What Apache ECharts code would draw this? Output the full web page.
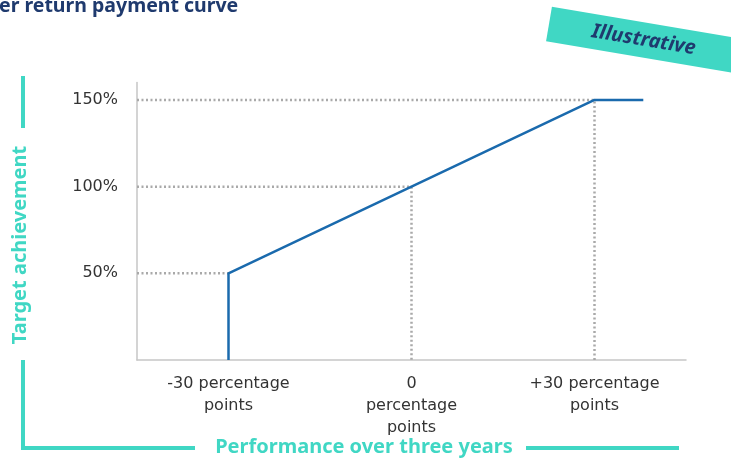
<!DOCTYPE html>
<html>
<head>
<meta charset="utf-8">
<script src="https://cdn.jsdelivr.net/npm/echarts@6/dist/echarts.min.js"></script>
<style>
html,body{margin:0;padding:0;background:#fff;}
#chart{width:731px;height:459px;}
</style>
</head>
<body>
<div id="chart"></div>
<script>
// ---- data ----
var titleText = 'er return payment curve';
var tagText = 'Illustrative';
var yAxisName = 'Target achievement';
var xAxisName = 'Performance over three years';
// payment curve points [performance (pp), target achievement (%)]
var curveX = [-30, -30, 0, 30, 38];
var curveY = [0, 50, 100, 150, 150];
// guide (dotted) points
var guideX = [-30, 0, 30];
var guideY = [50, 100, 150];
var guideDrop = [false, true, true];
// ticks
var xTickValues = [-30, 0, 30];
var xTickLabels = ['-30 percentage\npoints', '0\npercentage\npoints', '+30 percentage\npoints'];
var yTickValues = [50, 100, 150];
var yTickLabels = ['50%', '100%', '150%'];
var xMin = -45, xMax = 45, yMin = 0, yMax = 160;

var teal = '#40d7c4';
var navy = '#1f3a6e';
var blue = '#1a6aad';
var dotGray = '#a9a9a9';

var chart = echarts.init(document.getElementById('chart'), null, {renderer: 'canvas'});

var series = [];
guideX.forEach(function (gx, i) {
  var pts = [[xMin, guideY[i]], [gx, guideY[i]]];
  if (guideDrop[i]) pts.push([gx, yMin]);
  series.push({
    type: 'line', data: pts, symbol: 'none', silent: true, z: 1,
    lineStyle: {color: dotGray, width: 2.5, type: [2, 2.5]}
  });
});
series.push({
  type: 'line', symbol: 'none', z: 3,
  data: curveX.map(function (x, i) { return [x, curveY[i]]; }),
  lineStyle: {color: blue, width: 2.5}
});

var option = {
  backgroundColor: '#fff',
  animation: false,
  grid: {left: 137, right: 45, top: 82.6, bottom: 99, containLabel: false},
  xAxis: {
    type: 'value', min: xMin, max: xMax,
    axisLine: {show: true, onZero: false, lineStyle: {color: '#c6c6c6', width: 1.5}},
    axisTick: {show: false},
    splitLine: {show: false},
    axisLabel: {
      customValues: xTickValues,
      margin: 13,
      color: '#333', fontSize: 16, lineHeight: 22,
      fontFamily: 'DejaVu Sans', align: 'center',
      formatter: function (v) { var k = xTickValues.indexOf(v); return k >= 0 ? xTickLabels[k] : ''; }
    }
  },
  yAxis: {
    type: 'value', min: yMin, max: yMax,
    axisLine: {show: true, onZero: false, lineStyle: {color: '#c6c6c6', width: 1.5}},
    axisTick: {show: false},
    splitLine: {show: false},
    axisLabel: {
      customValues: yTickValues,
      margin: 19,
      color: '#333', fontSize: 16,
      fontFamily: 'DejaVu Sans',
      formatter: function (v) { var k = yTickValues.indexOf(v); return k >= 0 ? yTickLabels[k] : ''; }
    }
  },
  series: series,
  graphic: [
    {type: 'text', left: -1, top: -4, style: {text: titleText, fill: navy, font: 'bold 19.5px "Noto Sans"'}},
    {
      type: 'group', x: 549, y: 24, rotation: -0.168,
      children: [
        {type: 'rect', shape: {x: 0, y: -17.5, width: 260, height: 35}, style: {fill: teal}},
        {type: 'text', x: 96, y: 0, style: {text: tagText, fill: navy, align: 'center', verticalAlign: 'middle', font: 'italic bold 20px "Noto Sans"'}}
      ]
    },
    // y-axis bracket
    {type: 'line', shape: {x1: 23, y1: 76, x2: 23, y2: 128}, style: {stroke: teal, lineWidth: 4}},
    {type: 'polyline', shape: {points: [[23, 360], [23, 448], [195, 448]]}, style: {stroke: teal, lineWidth: 4, fill: null, lineJoin: 'miter'}},
    {type: 'line', shape: {x1: 526, y1: 448, x2: 679, y2: 448}, style: {stroke: teal, lineWidth: 4}},
    {type: 'text', x: 20, y: 245, rotation: Math.PI / 2,
      style: {text: yAxisName, fill: teal, align: 'center', verticalAlign: 'middle', font: 'bold 20px "Noto Sans"'}},
    {type: 'text', x: 364, y: 447, style: {text: xAxisName, fill: teal, align: 'center', verticalAlign: 'middle', font: 'bold 20px "Noto Sans"'}}
  ]
};
chart.setOption(option);
</script>
</body>
</html>
